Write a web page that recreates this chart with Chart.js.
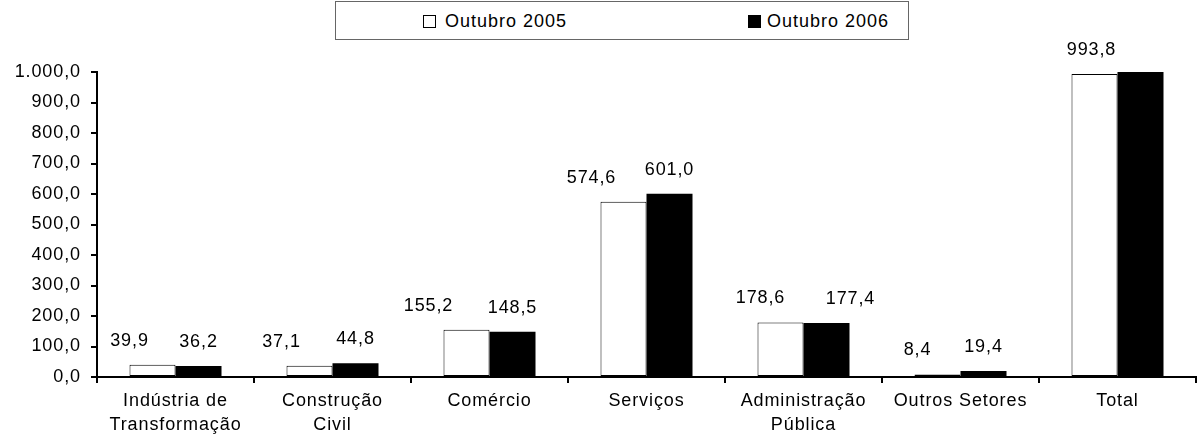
<!DOCTYPE html>
<html lang="pt-BR">
<head>
<meta charset="UTF-8">
<title>Outubro 2005 x Outubro 2006</title>
<script src="https://cdn.jsdelivr.net/npm/chart.js"></script>
<style>
  body { margin: 0; background: #fff; }
  .quadro { position: relative; width: 1199px; height: 436px; font-family: 'Liberation Sans', Arial, sans-serif; }
  .quadro canvas { position: absolute; left: 0; top: 0; }
  .legenda { position: absolute; left: 335px; top: 1px; width: 574px; height: 39px; border: 1px solid #666; box-sizing: border-box; background: #fff; }
  .legenda span { position: absolute; top: 9px; font-size: 18px; letter-spacing: 1px; color: #000; line-height: 20px; }
  .legenda i { position: absolute; top: 13px; width: 13px; height: 13px; box-sizing: border-box; border: 1px solid #000; }
</style>
</head>
<body>
<div class="quadro">
  <canvas id="grafico" width="1199" height="436"></canvas>
  <div class="legenda">
    <i style="left:87px;background:#fff"></i><span style="left:109px" id="leg0"></span>
    <i style="left:412px;background:#000"></i><span style="left:431px" id="leg1"></span>
  </div>
</div>
<script>
const setores = [['Indústria de', 'Transformação'], ['Construção', 'Civil'], 'Comércio', 'Serviços', ['Administração', 'Pública'], 'Outros Setores', 'Total'];
const series = ['Outubro 2005', 'Outubro 2006'];
const out2005 = [39.9, 37.1, 155.2, 574.6, 178.6, 8.4, 993.8];
const out2006 = [36.2, 44.8, 148.5, 601.0, 177.4, 19.4, 1027.3];
const yTicks = [0, 100, 200, 300, 400, 500, 600, 700, 800, 900, 1000];

// deslocamento horizontal dos rótulos (posicionados à mão no original)
const desloc2005 = [-23, -28, -38, -32, -20, -20, -3];
const desloc2006 = [0, 0, 0, 0, 24, 0, 0];

document.getElementById('leg0').innerText = series[0];
document.getElementById('leg1').innerText = series[1];

function fmt(v) {
  let [i, d] = v.toFixed(1).split('.');
  i = i.replace(/\B(?=(\d{3})+(?!\d))/g, '.');
  return i + ',' + d;
}

const fonte = { family: "'Liberation Sans', Arial, sans-serif", size: 18 };

const espacamento = {
  id: 'espacamento',
  beforeDraw(chart) { chart.ctx.letterSpacing = '0.9px'; }
};

const rotulos = {
  id: 'rotulos',
  afterDatasetsDraw(chart) {
    const ctx = chart.ctx;
    const maxY = chart.scales.y.max;
    ctx.save();
    ctx.font = fonte.size + 'px ' + fonte.family;
    ctx.fillStyle = '#000';
    ctx.textAlign = 'center';
    ctx.textBaseline = 'middle';
    chart.data.datasets.forEach((ds, i) => {
      const desloc = i === 0 ? desloc2005 : desloc2006;
      chart.getDatasetMeta(i).data.forEach((bar, j) => {
        const v = ds.data[j];
        if (v > maxY) return;
        ctx.fillText(fmt(v), bar.x + desloc[j], bar.y - 24);
      });
    });
    ctx.restore();
  }
};

new Chart(document.getElementById('grafico'), {
  type: 'bar',
  data: {
    labels: setores,
    datasets: [
      { label: series[0], data: out2005, backgroundColor: '#fff', borderColor: '#000', borderWidth: 1, borderSkipped: false },
      { label: series[1], data: out2006, backgroundColor: '#000', borderColor: '#000', borderWidth: 0 }
    ]
  },
  options: {
    responsive: false,
    animation: false,
    layout: { padding: { top: 72, right: 3, left: 0, bottom: 0 } },
    datasets: { bar: { categoryPercentage: 0.586, barPercentage: 1 } },
    plugins: { legend: { display: false }, tooltip: { enabled: false } },
    scales: {
      x: {
        grid: { drawOnChartArea: false, drawTicks: true, tickLength: 6, color: '#000', lineWidth: 2, offset: true },
        border: { color: '#000', width: 2 },
        ticks: { color: '#000', font: { ...fonte, lineHeight: 1.35 }, maxRotation: 0, minRotation: 0, padding: 6, autoSkip: false },
        afterFit(scale) { scale.height = 59; }
      },
      y: {
        min: 0,
        max: 1000,
        afterBuildTicks(scale) { scale.ticks = yTicks.map(v => ({ value: v })); },
        grid: { drawOnChartArea: false, drawTicks: true, tickLength: 6, color: '#000', lineWidth: 2 },
        border: { color: '#000', width: 2 },
        ticks: { color: '#000', font: fonte, padding: 10, callback: v => fmt(v) },
        afterFit(scale) { scale.width = 97; }
      }
    }
  },
  plugins: [espacamento, rotulos]
});
</script>
</body>
</html>
